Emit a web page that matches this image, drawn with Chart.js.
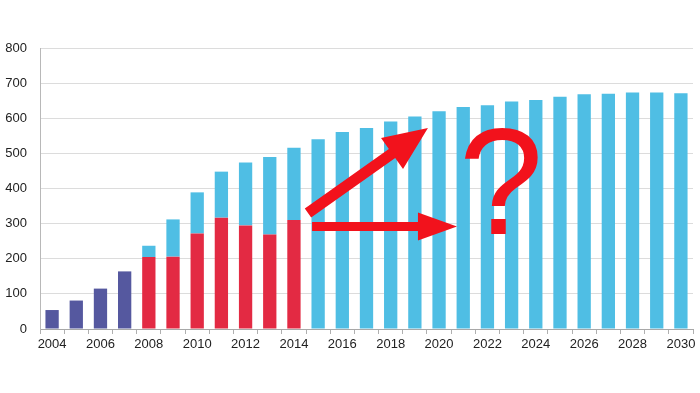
<!DOCTYPE html>
<html>
<head>
<meta charset="utf-8">
<script src="https://cdn.jsdelivr.net/npm/chart.js@4/dist/chart.umd.min.js"></script>
<style>
  html, body { margin: 0; padding: 0; background: #ffffff; }
  #wrap { width: 700px; height: 393px; position: relative; }
</style>
</head>
<body>
<div id="wrap"><canvas id="c" width="700" height="393"></canvas></div>
<script>
// ---- data ----
const years = ['2004','2005','2006','2007','2008','2009','2010','2011','2012','2013','2014','2015','2016','2017','2018','2019','2020','2021','2022','2023','2024','2025','2026','2027','2028','2029','2030'];
// early (purple) values 2004-2007
const earlyValues = [54, 81, 115, 164, null, null, null, null, null, null, null, null, null, null, null, null, null, null, null, null, null, null, null, null, null, null, null];
// red (actual) portion 2008-2014
const redValues = [null, null, null, null, 205, 206, 272, 317, 295, 269, 310, null, null, null, null, null, null, null, null, null, null, null, null, null, null, null, null];
// total bar heights (blue top) 2008-2030
const totalValues = [null, null, null, null, 237, 312, 389, 448, 474, 490, 516, 540, 561, 572, 591, 605, 620, 632, 637, 648, 652, 661, 668, 670, 673, 673, 671];
const yTicks = [0, 100, 200, 300, 400, 500, 600, 700, 800];

// blue segment = total minus red part
const blueValues = totalValues.map((t, i) => t === null ? null : t - (redValues[i] || 0));

// annotation anchors (category index, value)
const arrowUp = { from: [10.58, 330], to: [15.54, 572] };
const arrowRight = { from: [10.75, 292], to: [16.74, 292] };
const questionMark = { at: [18.56, 271], text: '?' };

const annotationPlugin = {
  id: 'annot',
  afterDatasetsDraw(chart) {
    const ctx = chart.ctx, xs = chart.scales.x, ys = chart.scales.y;
    const px = p => [xs.getPixelForValue(p[0]), ys.getPixelForValue(p[1])];
    const red = '#f2121c';
    function arrow(a, shaftW, headL, headW) {
      const [x1, y1] = px(a.from), [x2, y2] = px(a.to);
      const ang = Math.atan2(y2 - y1, x2 - x1);
      const len = Math.hypot(x2 - x1, y2 - y1);
      ctx.save();
      ctx.translate(x1, y1);
      ctx.rotate(ang);
      ctx.fillStyle = red;
      ctx.beginPath();
      ctx.moveTo(0, -shaftW / 2);
      ctx.lineTo(len - headL, -shaftW / 2);
      ctx.lineTo(len - headL, -headW / 2);
      ctx.lineTo(len, 0);
      ctx.lineTo(len - headL, headW / 2);
      ctx.lineTo(len - headL, shaftW / 2);
      ctx.lineTo(0, shaftW / 2);
      ctx.closePath();
      ctx.fill();
      ctx.restore();
    }
    arrow(arrowUp, 11, 44, 38);
    arrow(arrowRight, 9, 39, 28);
    const [qx, qy] = px(questionMark.at);
    ctx.save();
    ctx.fillStyle = red;
    ctx.font = '152px "Liberation Sans", Arial, sans-serif';
    ctx.textAlign = 'center';
    ctx.textBaseline = 'alphabetic';
    ctx.fillText(questionMark.text, qx, qy);
    ctx.restore();
  }
};

const labelFont = { family: '"Liberation Sans", Arial, sans-serif', size: 13 };

new Chart(document.getElementById('c'), {
  type: 'bar',
  data: {
    labels: years,
    datasets: [
      { data: earlyValues, backgroundColor: '#55589f', stack: 's' },
      { data: redValues, backgroundColor: '#e32a43', stack: 's' },
      { data: blueValues, backgroundColor: '#4fbee4', stack: 's' }
    ]
  },
  options: {
    responsive: false,
    animation: false,
    devicePixelRatio: 1,
    layout: { padding: { top: 48, right: 7, bottom: 0, left: 0 } },
    plugins: { legend: { display: false }, tooltip: { enabled: false } },
    datasets: { bar: { barPercentage: 0.55, categoryPercentage: 1.0 } },
    scales: {
      x: {
        stacked: true,
        offset: true,
        grid: { offset: true, drawOnChartArea: false, drawTicks: true, tickLength: 5, color: '#b0b0b0' },
        border: { color: '#a8a8a8', width: 1 },
        ticks: {
          autoSkip: false, maxRotation: 0, padding: 3,
          color: '#222', font: labelFont,
          callback: function (v, i) { return i % 2 === 0 ? years[i] : ''; }
        },
        afterFit: s => { s.height = 64; }
      },
      y: {
        stacked: true,
        min: 0, max: 800,
        afterBuildTicks: s => { s.ticks = yTicks.map(v => ({ value: v })); },
        grid: { color: '#dcdcdc', drawTicks: false, lineWidth: 1 },
        border: { color: '#b8b8b8', width: 1 },
        ticks: { padding: 13, color: '#222', font: labelFont },
        afterFit: s => { s.width = 40; }
      }
    }
  },
  plugins: [annotationPlugin]
});
</script>
</body>
</html>
